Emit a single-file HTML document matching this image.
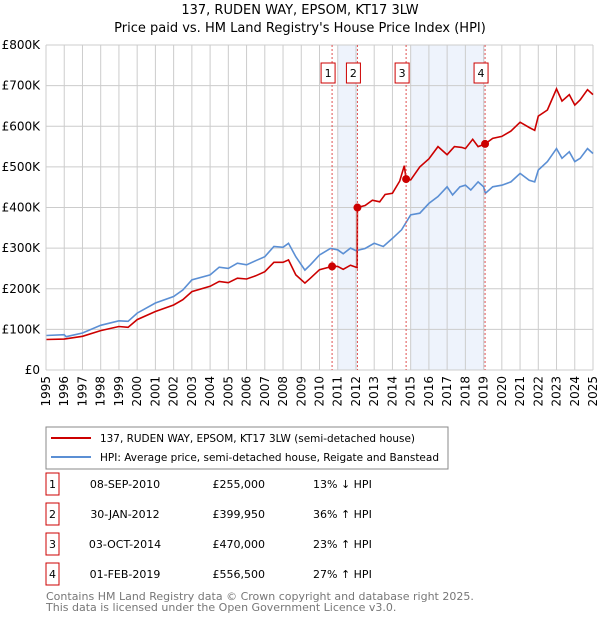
<!DOCTYPE html>
<html><head><meta charset="utf-8"><style>
body{margin:0;background:#fff;font-family:"DejaVu Sans","Liberation Sans",sans-serif;}
svg text{font-family:"DejaVu Sans","Liberation Sans",sans-serif;}
</style></head><body>
<svg id="c" width="600" height="620" xmlns="http://www.w3.org/2000/svg">
<text x="300" y="14" text-anchor="middle" font-size="13">137, RUDEN WAY, EPSOM, KT17 3LW</text>
<text x="300" y="32" text-anchor="middle" font-size="13">Price paid vs. HM Land Registry's House Price Index (HPI)</text>
<g id="plot"></g>
<rect x="46" y="427" width="402" height="42" fill="#fff" stroke="#888"/>
<line x1="51" y1="438" x2="91" y2="438" stroke="#cc0000" stroke-width="2"/>
<text x="100" y="442" font-size="11" textLength="315" lengthAdjust="spacingAndGlyphs">137, RUDEN WAY, EPSOM, KT17 3LW (semi-detached house)</text>
<line x1="51" y1="457" x2="91" y2="457" stroke="#5b8fd4" stroke-width="2"/>
<text x="100" y="461" font-size="11" textLength="339" lengthAdjust="spacingAndGlyphs">HPI: Average price, semi-detached house, Reigate and Banstead</text>
<g id="table" font-size="11"></g>
<text x="46" y="600" font-size="11" fill="#777">Contains HM Land Registry data © Crown copyright and database right 2025.</text>
<text x="46" y="611" font-size="11" fill="#777">This data is licensed under the Open Government Licence v3.0.</text>
</svg>
<script>
const yTicks=[0,100,200,300,400,500,600,700,800];
const years=[1995,1996,1997,1998,1999,2000,2001,2002,2003,2004,2005,2006,2007,2008,2009,2010,2011,2012,2013,2014,2015,2016,2017,2018,2019,2020,2021,2022,2023,2024,2025];
const hpiT=[1995,1996,1996.1,1997,1998,1999,1999.5,2000,2001,2002,2002.5,2003,2004,2004.5,2005,2005.5,2006,2006.5,2007,2007.5,2008,2008.3,2008.7,2009.2,2009.5,2010,2010.6,2011,2011.3,2011.7,2012,2012.5,2013,2013.5,2014,2014.5,2015,2015.5,2016,2016.5,2017,2017.3,2017.7,2018,2018.3,2018.7,2019,2019.1,2019.5,2020,2020.5,2021,2021.5,2021.8,2022,2022.5,2023,2023.3,2023.7,2024,2024.3,2024.7,2025];
const hpiV=[85,87,82,91,110,121,120,140,165,181,197,222,234,253,250,263,259,269,279,304,302,312,279,246,259,283,299,296,286,300,294,299,312,304,324,345,382,386,410,427,451,431,451,455,443,463,451,435,451,455,463,484,467,463,492,513,545,521,537,513,521,545,533];
const priceT=[1995,1996,1997,1998,1999,1999.5,2000,2001,2002,2002.5,2003,2004,2004.5,2005,2005.5,2006,2006.5,2007,2007.5,2008,2008.3,2008.7,2009.2,2009.5,2010,2010.69,2011,2011.3,2011.7,2012.07,2012.08,2012.5,2012.9,2013.3,2013.6,2014,2014.4,2014.65,2014.75,2015,2015.5,2016,2016.5,2017,2017.4,2017.8,2018,2018.4,2018.7,2019.08,2019.5,2020,2020.5,2021,2021.5,2021.8,2022,2022.5,2023,2023.3,2023.7,2024,2024.3,2024.7,2025];
const priceV=[75,76,83,97,107,105,124,144,160,173,193,206,218,215,226,224,232,242,265,265,271,234,214,226,247,255,255,248,258,252,400,405,418,414,432,435,465,503,470,468,500,520,550,530,550,548,545,568,550,556.5,570,575,588,610,597,590,625,640,692,662,678,652,665,690,678];
const saleNums=["1","2","3","4"];
const saleT=[2010.69,2012.08,2014.75,2019.08];
const saleV=[255,399.95,470,556.5];
const saleDates=["08-SEP-2010","30-JAN-2012","03-OCT-2014","01-FEB-2019"];
const salePrices=["£255,000","£399,950","£470,000","£556,500"];
const saleHpi=["13% ↓ HPI","36% ↑ HPI","23% ↑ HPI","27% ↑ HPI"];
const shadeStart=[2011,2015];const shadeEnd=[2012.08,2019.08];

const X0=46,X1=593,Y0=370,Y1=45;
const xs=t=>X0+(t-1995)/(2025-1995)*(X1-X0);
const ys=v=>Y0-v/800*(Y0-Y1);
const NS="http://www.w3.org/2000/svg";
const plot=document.getElementById('plot');
function mk(tag,attrs,parent){const e=document.createElementNS(NS,tag);for(const k in attrs)e.setAttribute(k,attrs[k]);(parent||plot).appendChild(e);return e;}
mk('rect',{x:X0,y:Y1,width:X1-X0,height:Y0-Y1,fill:'#fff'});
for(let i=0;i<shadeStart.length;i++){
 const r=mk('rect',{x:xs(shadeStart[i]),y:Y1,width:xs(shadeEnd[i])-xs(shadeStart[i]),height:Y0-Y1,fill:'#eef3fc'});
 
 
}
years.forEach(y=>{
 const l=mk('line',{x1:xs(y),x2:xs(y),y1:Y1,y2:Y0,stroke:'#ccc'});
 
 
 const t=mk('text',{x:0,y:0,'font-size':12,'text-anchor':'end',transform:`translate(${xs(y)+4},${Y0+6}) rotate(-90)`});
 t.textContent=y;
 
 
});
yTicks.forEach(v=>{
 const l=mk('line',{x1:X0,x2:X1,y1:ys(v),y2:ys(v),stroke:'#ccc'});
 
 
 const t=mk('text',{x:X0-6,y:ys(v)+4,'font-size':12,'text-anchor':'end'});
 t.textContent=v===0?'£0':'£'+v+'K';
 
 
});
function path(T,V,col,name){
 const d=T.map((t,i)=>(i?'L':'M')+xs(t).toFixed(1)+','+ys(V[i]).toFixed(1)).join('');
 const p=mk('path',{d,fill:'none',stroke:col,'stroke-width':1.6});
 
 
}
path(hpiT,hpiV,'#5b8fd4','hpi-line');
path(priceT,priceV,'#cc0000','price-line');
saleT.forEach((t,i)=>{
 const l=mk('line',{x1:xs(t),x2:xs(t),y1:Y1,y2:Y0,stroke:'#e05050','stroke-dasharray':'2,2'});
 
 
 const c=mk('circle',{cx:xs(t),cy:ys(saleV[i]),r:4,fill:'#cc0000'});
 
 
 const b=mk('rect',{x:xs(t)-11,y:63,width:14,height:20,fill:'#fff',stroke:'#cc0000'});
 
 
 const tx=mk('text',{x:xs(t)-4,y:77,'font-size':11,'text-anchor':'middle'});
 tx.textContent=saleNums[i];
 
 
});
mk('line',{x1:X0,x2:X0,y1:Y1,y2:Y0,stroke:'#ccc'});
const tb=document.getElementById('table');
saleNums.forEach((n,i)=>{
 const y=483+i*30;
 const b=mk('rect',{x:46,y:y-10,width:13,height:22,fill:'#fff',stroke:'#cc0000'},tb);
 
 
 const cells=[[n,52.5,'middle'],[saleDates[i],125,'middle'],[salePrices[i],265,'end'],[saleHpi[i],313,'start']];
 cells.forEach(c=>{
  const t=mk('text',{x:c[1],y:y+5,'text-anchor':c[2]},tb);
  t.textContent=c[0];
  
  
 });
});
</script>
</body></html>
